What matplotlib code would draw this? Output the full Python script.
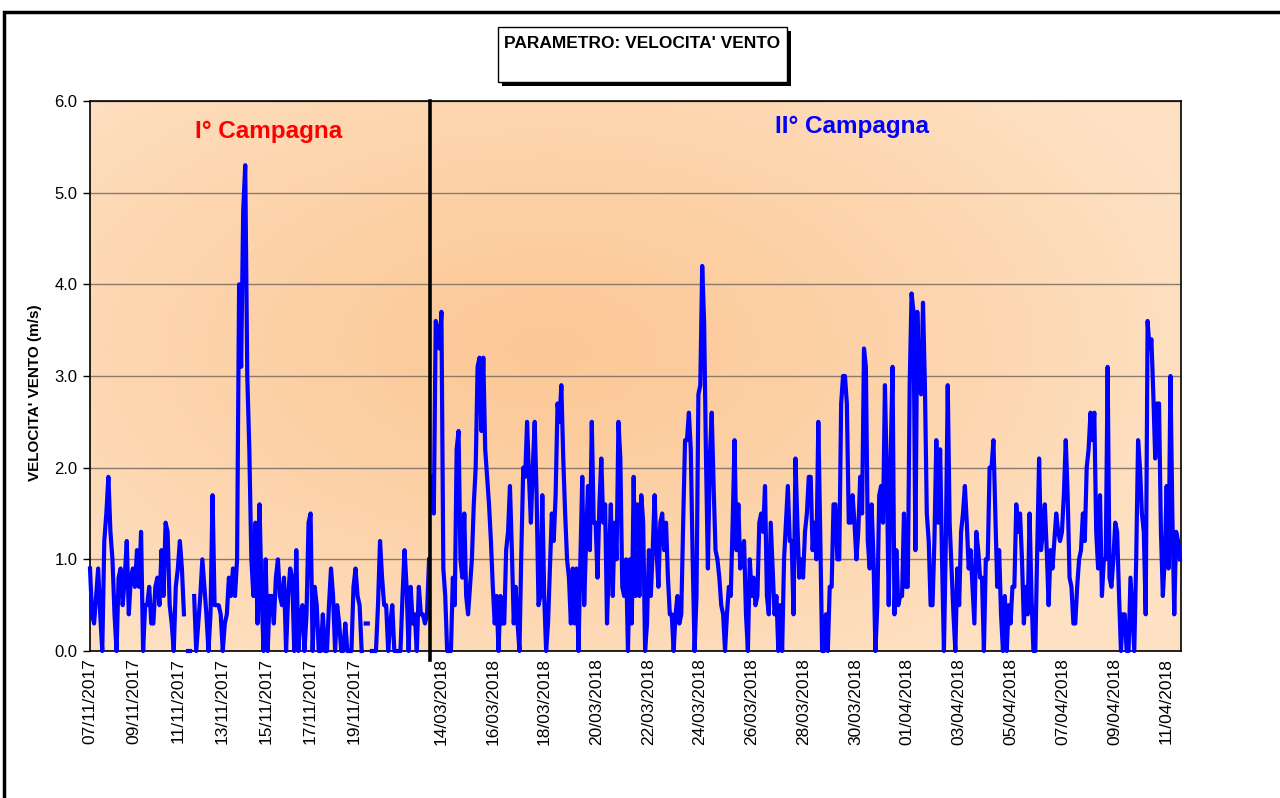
import numpy as np
import matplotlib
matplotlib.use('Agg')
import matplotlib.pyplot as plt
from matplotlib.patches import Rectangle

plt.rcParams['font.family'] = ['Liberation Sans', 'DejaVu Sans']

nan = np.nan

# wind speed (m/s), I campaign (07/11/2017 -> 22/11/2017)
campagna_1 = [
    0.9, 0.4, 0.3, 0.6, 0.9, 0.4, 0, 1.2, 1.5, 1.9,
    1.3, 1.0, 0.4, 0, 0.8, 0.9, 0.5, 0.8, 1.2, 0.4,
    0.8, 0.9, 0.7, 1.1, 0.7, 1.3, 0, 0.5, 0.5, 0.7,
    0.3, 0.3, 0.7, 0.8, 0.5, 1.1, 0.6, 1.4, 1.3, 0.5,
    0.3, 0, 0.7, 0.9, 1.2, 0.9, 0.4, nan, 0, 0,
    nan, 0.6, 0, 0.3, 0.6, 1.0, 0.7, 0.4, 0, 0.4,
    1.7, 0.5, 0.5, 0.5, 0.4, 0, 0.3, 0.4, 0.8, 0.6,
    0.9, 0.6, 1.0, 4.0, 3.1, 4.8, 5.3, 3.0, 2.2, 1.0,
    0.6, 1.4, 0.3, 1.6, 0.6, 0, 1.0, 0, 0.6, 0.6,
    0.3, 0.8,
    1.0, 0.6, 0.5, 0.8, 0, 0.6, 0.9, 0.8, 0, 1.1,
    0, 0.4, 0.5, 0, 0.4, 1.4, 1.5, 0, 0.7, 0.5,
    0, 0, 0.4, 0, 0, 0.5, 0.9, 0.6, 0, 0.5,
    0.3, 0, 0, 0.3, 0, 0, 0, 0.7, 0.9, 0.6,
    0.5, 0, nan, 0.3, 0.3, nan, 0, 0, 0, 0.5,
    1.2, 0.8, 0.5, 0.5, 0, 0.3, 0.5, 0, 0, 0,
    0, 0.6, 1.1, 0.7, 0, 0.7, 0.3, 0.4, 0, 0.7,
    0.4, 0.4, 0.3, 0.4, 1.0,
]

# wind speed (m/s), II campaign (13/03/2018 -> 11/04/2018)
campagna_2 = [
    1.9, 1.5, 3.6, 3.5, 3.3, 3.7, 0.9, 0.6, 0, 0,
    0, 0.8, 0.5, 2.2, 2.4, 1.0, 0.8, 1.5, 0.6, 0.4,
    0.7, 1.0, 1.6, 2.0, 3.1, 3.2, 2.4, 3.2, 2.2, 1.9,
    1.6, 1.2, 0.7, 0.3, 0.6, 0, 0.6, 0.3, 0.3, 1.1,
    1.3, 1.8, 1.1, 0.3, 0.7, 0.3, 0, 1.1, 2.0, 1.9,
    2.5, 1.9, 1.4, 2.0, 2.5, 1.7, 0.5, 0.6, 1.7, 0.6,
    0, 0.3, 0.9, 1.5, 1.2, 1.7, 2.7, 2.5, 2.9, 2.1,
    1.5, 1.0, 0.8, 0.3, 0.9, 0.3, 0.9, 0, 1.0, 1.9,
    0.5, 1.2, 1.8, 1.1, 2.5, 1.4, 1.4, 0.8, 1.6, 2.1,
    1.4, 1.6, 0.3, 1.0, 1.6, 0.6, 1.4, 1.0,
    2.5, 2.1, 0.7, 0.6, 1.0, 0, 1.0, 0.3, 1.9, 0.6,
    1.6, 0.6, 1.7, 1.4, 0, 0.3, 1.1, 0.6, 1.1, 1.7,
    1.1, 0.7, 1.4, 1.5, 1.1, 1.4, 0.8, 0.4, 0.4, 0,
    0.4, 0.6, 0.3, 0.4, 1.4, 2.3, 2.3, 2.6, 2.2, 1.0,
    0, 0.6, 2.8, 2.9, 4.2, 3.6, 2.1, 0.9, 2.1, 2.6,
    1.8, 1.1, 1.0, 0.8, 0.5, 0.4, 0, 0.4, 0.7, 0.6,
    1.4, 2.3, 1.1, 1.6, 0.9, 1.1, 1.2, 0.4, 0, 1.0,
    0.6, 0.8, 0.5, 0.6, 1.4, 1.5, 1.3, 1.8, 0.6, 0.4,
    1.4, 0.9, 0.4, 0.6, 0, 0.5, 0, 1.0, 1.4, 1.8,
    1.2, 1.2, 0.4, 2.1, 1.4, 0.8,
    1.0, 0.8, 1.3, 1.5, 1.9, 1.9, 1.1, 1.4, 1.0, 2.5,
    1.3, 0, 0, 0.4, 0, 0.7, 0.7, 1.6, 1.6, 1.0,
    1.0, 2.7, 3.0, 3.0, 2.7, 1.4, 1.4, 1.7, 1.4, 1.0,
    1.3, 1.9, 1.5, 3.3, 3.1, 1.2, 0.9, 1.6, 1.0, 0,
    0.5, 1.7, 1.8, 1.4, 2.9, 1.9, 0.5, 2.1, 3.1, 0.4,
    1.1, 0.5, 0.6, 0.6, 1.5, 0.7, 0.7, 2.9, 3.9, 3.7,
    1.1, 3.7, 2.9, 2.8, 3.8, 2.9, 1.5, 1.2, 0.5, 0.5,
    1.2, 2.3, 1.4, 2.2, 1.0, 0, 1.2, 2.9, 1.4, 0.9,
    0.4, 0, 0.9, 0.5, 1.3, 1.5, 1.8, 1.4, 0.9, 1.1,
    0.7, 0.3, 1.3, 1.1, 0.8, 0.8, 0, 1.0, 1.0, 2.0,
    2.0, 2.3, 1.5, 0.7, 1.1, 0.4, 0, 0.6, 0, 0.5,
    0.3, 0.7, 0.7, 1.6, 1.3, 1.5, 1.0, 0.3, 0.7, 0.4,
    1.5, 0.6, 0, 0, 1.1, 2.1, 1.1, 1.3, 1.6, 1.1,
    0.5, 1.1, 0.9, 1.2, 1.5, 1.3, 1.2, 1.3, 1.7, 2.3,
    1.7, 0.8, 0.7, 0.3, 0.3, 0.7, 1.0, 1.1, 1.5, 1.2,
    2.0, 2.2, 2.6, 2.3, 2.6, 1.3, 0.9, 1.7, 0.6, 1.0,
    1.0, 3.1, 0.8, 0.7, 1.0, 1.4, 1.3, 0.6, 0, 0.4,
    0.4, 0, 0, 0.8, 0.4, 0, 1.0, 2.3, 2.0, 1.5,
    1.3, 0.4, 3.6, 3.3, 3.4, 2.8, 2.1, 2.7, 2.7, 1.3,
    0.6, 1.0, 1.8, 0.9, 3.0, 1.5, 0.4, 1.3, 1.2, 1.0,
]

labels_1 = ['07/11/2017', '09/11/2017', '11/11/2017', '13/11/2017',
            '15/11/2017', '17/11/2017', '19/11/2017']
labels_2 = ['14/03/2018', '16/03/2018', '18/03/2018', '20/03/2018',
            '22/03/2018', '24/03/2018', '26/03/2018', '28/03/2018',
            '30/03/2018', '01/04/2018', '03/04/2018', '05/04/2018',
            '07/04/2018', '09/04/2018', '11/04/2018']

# time spans in days (I from 07/11 00:00, II from 14/03 00:00)
span_1 = (0.0, 15.4)
span_2 = (-0.35, 28.53)

# the category axis packs the first campaign a bit tighter
SCALE_1 = 0.85
OFFSET_2 = 13.55


def draw_background(ax):
    """Excel style 'from centre' orange gradient."""
    u, v = np.meshgrid(np.linspace(0, 1, 500), np.linspace(0, 1, 300))
    r = np.sqrt(((u - 0.42) / 0.62) ** 2 + ((v - 0.55) / 0.7) ** 2)
    t = np.clip(r, 0, 1)[..., None] ** 1.2
    centre = np.array([252, 200, 150]) / 255
    edge = np.array([254, 225, 195]) / 255
    img = centre * (1 - t) + edge * t
    ax.imshow(img, extent=(0, 1, 0, 1), transform=ax.transAxes, origin='lower',
              aspect='auto', zorder=0, interpolation='bilinear')


def main():
    fig = plt.figure(figsize=(12.8, 7.98), dpi=100)
    W, H = 1280, 798
    ax = fig.add_axes([90 / W, 1 - 651 / H, 1091 / W, 550 / H])

    draw_background(ax)

    x1 = np.linspace(*span_1, len(campagna_1)) * SCALE_1
    x2 = OFFSET_2 + np.linspace(*span_2, len(campagna_2))
    ax.plot(x1, campagna_1, color='#0000ff', lw=3.0, zorder=3, clip_on=False)
    ax.plot(x2, campagna_2, color='#0000ff', lw=3.0, zorder=3, clip_on=False)

    # separator between the two campaigns
    x_sep = (x1[-1] + x2[0]) / 2
    ax.plot([x_sep, x_sep], [-0.1, 6.0], color='black', lw=2.6, zorder=4, clip_on=False)

    ax.set_xlim(0, x2[-1] + 0.04)
    ax.set_ylim(0, 6)

    ticks = list(np.arange(len(labels_1)) * 2 * SCALE_1) + \
        list(OFFSET_2 + np.arange(len(labels_2)) * 2)
    ax.set_xticks(ticks)
    ax.set_xticklabels(labels_1 + labels_2, rotation=90, fontsize=12.5)
    ax.tick_params(axis='x', length=0, pad=5)

    ax.set_yticks(np.arange(0, 7, 1))
    ax.set_yticklabels([f'{v:.1f}' for v in np.arange(0, 7, 1)], fontsize=12)
    ax.tick_params(axis='y', length=5, width=1, pad=4, direction='out')

    ax.set_axisbelow(True)
    ax.yaxis.grid(True, color='#8a7b6c', lw=1.0)
    for s in ax.spines.values():
        s.set_color('black')
        s.set_linewidth(1.2)

    ax.set_ylabel("VELOCITA' VENTO (m/s)", fontsize=11, fontweight='bold')
    ax.yaxis.set_label_coords(-0.044, 0.47)

    ax.text(0.164, 0.944, 'I° Campagna', transform=ax.transAxes, color='#ff0000',
            fontsize=17.5, fontweight='bold', ha='center', va='center')
    ax.text(0.698, 0.953, 'II° Campagna', transform=ax.transAxes, color='#0000ff',
            fontsize=17.5, fontweight='bold', ha='center', va='center')

    # title box with shadow
    bx, by, bw, bh = 498 / W, 1 - 82 / H, 289 / W, 55 / H
    fig.patches.append(Rectangle((bx + 4 / W, by - 4 / H), bw, bh, transform=fig.transFigure,
                                 facecolor='black', edgecolor='black', lw=0))
    fig.patches.append(Rectangle((bx, by), bw, bh, transform=fig.transFigure,
                                 facecolor='white', edgecolor='black', lw=1.0))
    fig.text(642 / W, 1 - 43 / H, "PARAMETRO: VELOCITA' VENTO", fontsize=12.5,
             fontweight='bold', ha='center', va='center')

    # outer frame of the chart object
    fig.patches.append(Rectangle((4 / W, -0.05), 1.1, 1 - 12 / H + 0.05, transform=fig.transFigure,
                                 fill=False, edgecolor='black', lw=2.5, clip_on=False))

    fig.savefig('out.png', dpi=100)
    plt.close(fig)


if __name__ == "__main__":
    main()
